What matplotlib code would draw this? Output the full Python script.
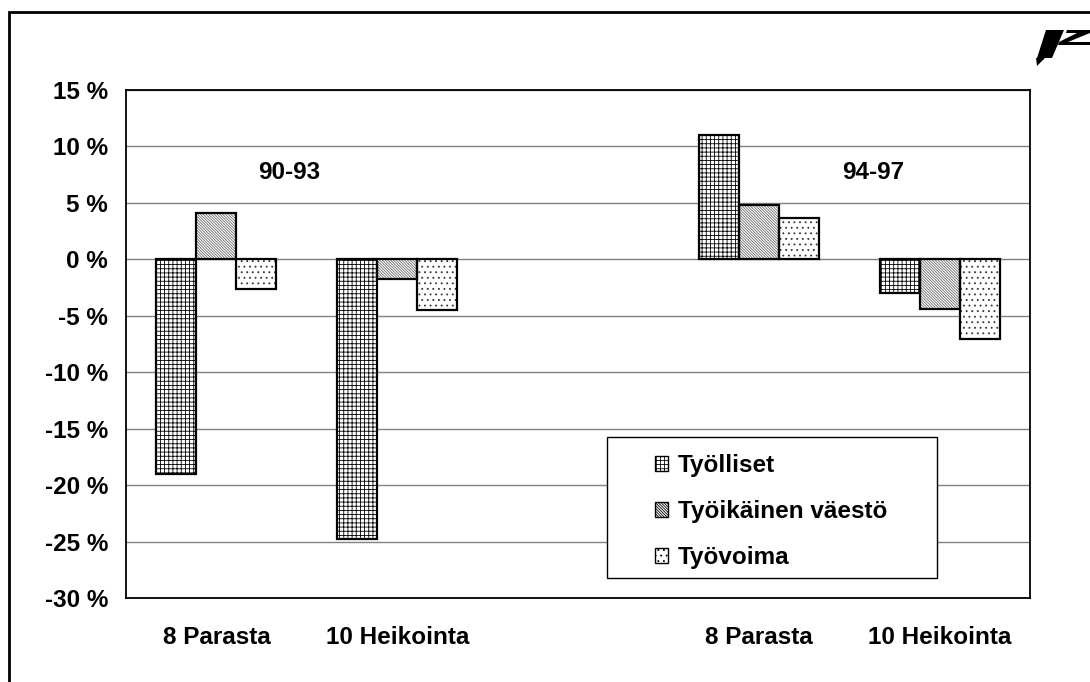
import numpy as np
import matplotlib.pyplot as plt
from matplotlib.patches import Patch, Rectangle, Polygon
from matplotlib.transforms import Affine2D

plt.rcParams['font.family'] = ['Liberation Sans', 'DejaVu Sans']
plt.rcParams['font.weight'] = 'bold'
plt.rcParams['hatch.linewidth'] = 0.6

groups = ['8 Parasta', '10 Heikointa', '', '8 Parasta', '10 Heikointa']
series = ['Työlliset', 'Työikäinen väestö', 'Työvoima']
tyolliset = [-19.0, -24.8, np.nan, 11.0, -3.0]
tyoikainen = [4.1, -1.7, np.nan, 4.8, -4.4]
tyovoima = [-2.6, -4.5, np.nan, 3.7, -7.1]
periods = ['90-93', '94-97']

hatches = ['++++', '\\' * 12, '...']
hatch_cols = ['black', '#707070', '#333333']
fs = 17.5

fig = plt.figure(figsize=(10.9, 6.82), dpi=100)
ax = fig.add_axes([126 / 1090, 1 - 598 / 682, 904 / 1090, 508 / 682])

x = np.arange(len(groups))
w = 0.221
for i, vals in enumerate([tyolliset, tyoikainen, tyovoima]):
    pos = x + (i - 1) * w
    ax.bar(pos, vals, w, color='white', hatch=hatches[i], edgecolor=hatch_cols[i],
           linewidth=0, zorder=3)
    ax.bar(pos, vals, w, color='none', edgecolor='black', linewidth=1.6, zorder=4)

ax.set_xlim(-0.5, 4.5)
ax.set_ylim(-30, 15)
ax.set_yticks(np.arange(-30, 16, 5))
ax.set_yticklabels([f'{v} %' for v in range(-30, 16, 5)])
ax.set_xticks(x)
ax.set_xticklabels(groups)
ax.tick_params(length=0, labelsize=fs)
ax.tick_params(axis='y', pad=13)
ax.tick_params(axis='x', pad=20)
ax.yaxis.grid(True, color='#808080', linewidth=1)
ax.set_axisbelow(True)
for s in ax.spines.values():
    s.set_linewidth(1.3)

ax.text(0.40, 7.7, periods[0], ha='center', va='center', fontsize=fs, fontweight='bold')
ax.text(3.63, 7.7, periods[1], ha='center', va='center', fontsize=fs, fontweight='bold')

# legend
ax.add_patch(Rectangle(((607 - 126) / 904, (598 - 578) / 508), 330 / 904, 141 / 508,
                       transform=ax.transAxes, facecolor='white', edgecolor='black',
                       linewidth=1, zorder=5))
handles = [Patch(facecolor='white', edgecolor='black', hatch=hatches[i], linewidth=1)
           for i in range(3)]
leg = ax.legend(handles, series, loc='upper left',
                bbox_to_anchor=((638 - 126) / 904, (598 - 437) / 508),
                frameon=False, fontsize=fs, handlelength=0.55, handleheight=0.55,
                handletextpad=0.4, labelspacing=0.95, borderpad=0.2)
leg.set_zorder(6)

# outer frame
fig.patches.append(Rectangle((9 / 1090, -0.1), 1.2, 0.1 + 1 - 12 / 682,
                             transform=fig.transFigure, fill=False,
                             edgecolor='black', linewidth=2, clip_on=False))

# logo (approximate)
px = Affine2D().scale(1 / 1090, -1 / 682).translate(0, 1) + fig.transFigure
logo = [
    [(1046, 30), (1064, 30), (1052, 58), (1037, 58)],
    [(1067, 30), (1090, 30), (1090, 33), (1068, 42), (1090, 42), (1090, 45),
     (1058, 45), (1059, 42), (1077, 33), (1066, 33)],
    [(1036, 58), (1045, 58), (1037, 66)],
]
for pts in logo:
    fig.patches.append(Polygon(pts, closed=True, transform=px, facecolor='black',
                               edgecolor='none'))

fig.savefig('out.png', dpi=100)
